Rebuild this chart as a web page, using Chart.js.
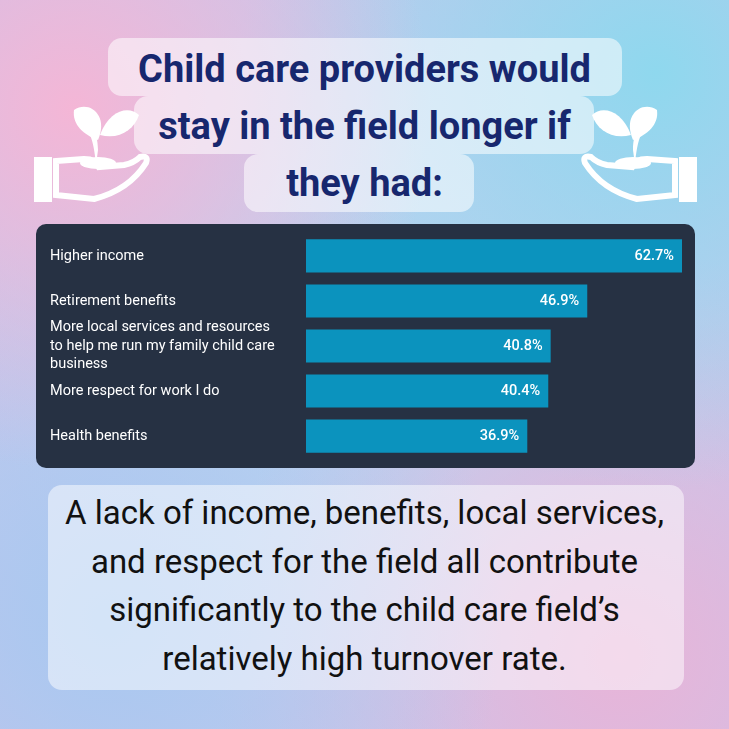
<!DOCTYPE html>
<html><head><meta charset="utf-8">
<script src="https://cdn.jsdelivr.net/npm/chart.js@4"></script>
<style>
html,body{margin:0;padding:0;width:729px;height:729px;overflow:hidden;font-family:Roboto,sans-serif}
body{position:relative;background:
radial-gradient(circle at 10% 15%,#f4b6d6 0,rgba(244,182,214,0) 40%),
radial-gradient(circle at 90% 10%,#8fd8ee 0,rgba(143,216,238,0) 45%),
radial-gradient(circle at 15% 85%,#a8c8f0 0,rgba(168,200,240,0) 45%),
radial-gradient(circle at 85% 90%,#e8b4d8 0,rgba(232,180,216,0) 45%),
radial-gradient(circle at 50% 50%,#b9d7f2 0,#c6c4ec 100%)}
.box{position:absolute;background:rgba(255,255,255,0.55);border-radius:14px}
.t{position:absolute;text-align:center;width:100%}
#panel{position:absolute;left:36px;top:224px;width:659px;height:244px;background:#263143;border-radius:10px}
</style></head><body>
<div class="box" style="left:108px;top:38px;width:514px;height:58px"></div>
<div class="box" style="left:134px;top:96px;width:460px;height:58px"></div>
<div class="box" style="left:244px;top:154px;width:230px;height:58px"></div>
<div class="t" style="top:41px;left:0;font-weight:bold;font-size:38px;line-height:57px;color:#17276e">Child care providers would<br>stay in the field longer if<br>they had:</div>
<svg style="position:absolute;left:34px;top:95px" width="125" height="110" viewBox="0 0 125 110">
<g fill="#fff"><path d="M62 70 C60 45 55 30 40 20 C55 22 64 35 64 55 Z"/><path d="M40 15 C55 5 75 20 64 45 C50 40 38 30 40 15 Z"/><path d="M66 40 C75 15 95 10 105 20 C100 35 85 45 66 40 Z"/>
<ellipse cx="64" cy="68" rx="18" ry="6"/>
<rect x="0" y="62" width="18" height="45"/><path d="M22 66 L50 64 Q62 64 65 72 L90 70 Q100 68 106 62 Q115 60 112 68 Q95 95 60 104 L22 100 Z" fill="none" stroke="#fff" stroke-width="6"/></g></svg>
<svg style="position:absolute;left:572px;top:95px;transform:scaleX(-1)" width="125" height="110" viewBox="0 0 125 110">
<g fill="#fff"><path d="M62 70 C60 45 55 30 40 20 C55 22 64 35 64 55 Z"/><path d="M40 15 C55 5 75 20 64 45 C50 40 38 30 40 15 Z"/><path d="M66 40 C75 15 95 10 105 20 C100 35 85 45 66 40 Z"/>
<ellipse cx="64" cy="68" rx="18" ry="6"/>
<rect x="0" y="62" width="18" height="45"/><path d="M22 66 L50 64 Q62 64 65 72 L90 70 Q100 68 106 62 Q115 60 112 68 Q95 95 60 104 L22 100 Z" fill="none" stroke="#fff" stroke-width="6"/></g></svg>
<div id="panel"><canvas id="c" width="659" height="244"></canvas></div>
<div class="box" style="left:48px;top:485px;width:636px;height:205px;background:rgba(255,255,255,0.5)"></div>
<div class="t" style="top:489px;left:0;font-size:33px;line-height:48.5px;color:#111">A lack of income, benefits, local services,<br>and respect for the field all contribute<br>significantly to the child care field’s<br>relatively high turnover rate.</div>
<script>
const categories=[["Higher income"],["Retirement benefits"],["More local services and resources","to help me run my family child care","business"],["More respect for work I do"],["Health benefits"]];
const values=[62.7,46.9,40.8,40.4,36.9];
const valueLabels=["62.7%","46.9%","40.8%","40.4%","36.9%"];
const lbl={id:'lbl',afterDatasetsDraw(ch){const ctx=ch.ctx;const m=ch.getDatasetMeta(0);ctx.save();ctx.fillStyle='#fff';ctx.font='500 14.5px Roboto';ctx.textAlign='right';ctx.textBaseline='middle';m.data.forEach((b,i)=>ctx.fillText(valueLabels[i],b.x-8,b.y));ctx.restore();}};
new Chart(document.getElementById('c'),{type:'bar',
data:{labels:categories,datasets:[{data:values,backgroundColor:'#0b93be',barPercentage:0.8,categoryPercentage:0.92}]},
options:{indexAxis:'y',responsive:false,animation:false,
layout:{padding:{left:14,top:7,bottom:7,right:13}},
plugins:{legend:{display:false},tooltip:{enabled:false}},
scales:{x:{display:false,min:0,max:62.7},
y:{grid:{display:false},border:{display:false},afterFit(a){a.width=256},
ticks:{color:'#fff',font:{family:'Roboto',size:14.5,lineHeight:1.3},crossAlign:'far',padding:0,autoSkip:false}}}},
plugins:[lbl]});
</script></body></html>
